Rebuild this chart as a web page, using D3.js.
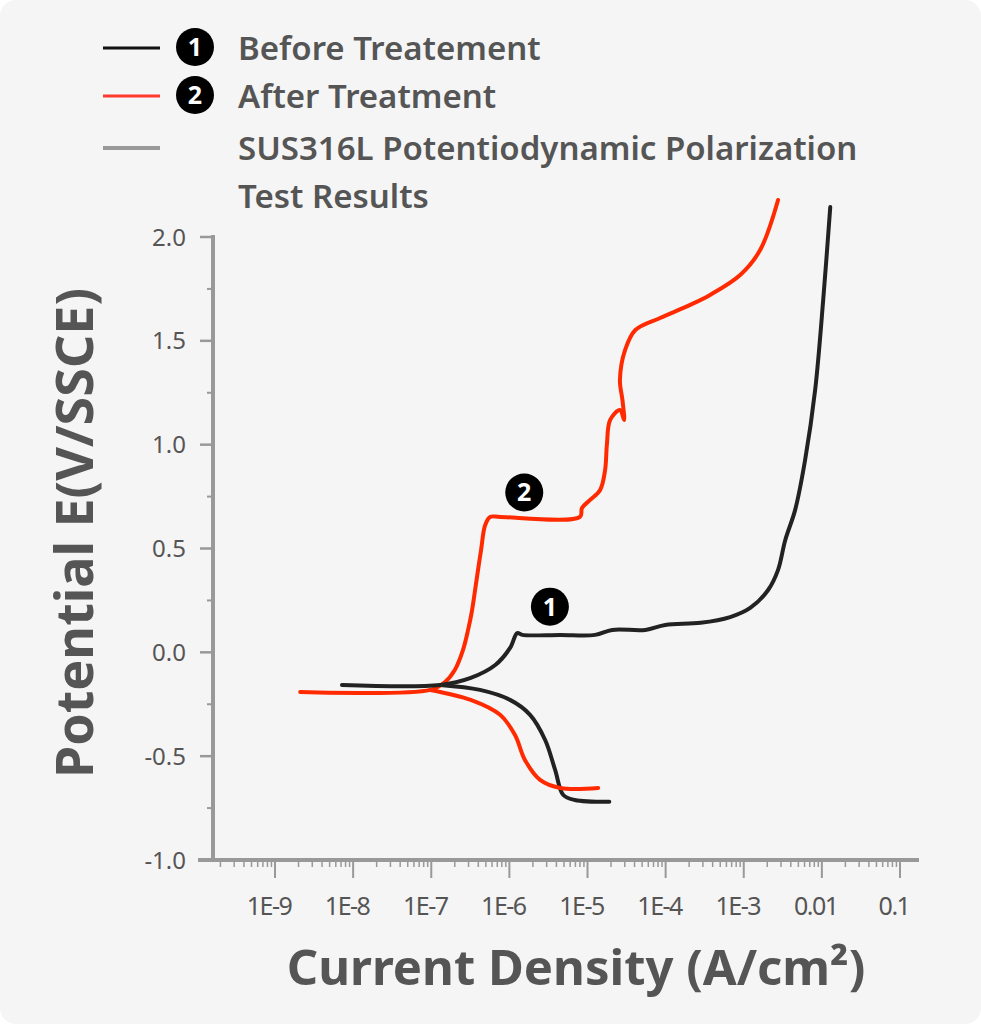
<!DOCTYPE html>
<html>
<head>
<meta charset="utf-8">
<script src="https://cdn.jsdelivr.net/npm/d3@7"></script>
<style>
  body { margin: 0; background: #fff; }
  svg { display: block; font-family: "Noto Sans", sans-serif; }
</style>
</head>
<body>
<svg id="chart" width="981" height="1024"></svg>
<script>
// [current density A/cm2, potential V]
const beforeAnodic = [
  [7.2e-9, -0.157], [1.3e-7, -0.157], [3.2e-7, -0.123], [6.6e-7, -0.061], [1.02e-6, 0.021],
  [1.26e-6, 0.093], [1.46e-6, 0.084], [4.5e-6, 0.084], [1.25e-5, 0.084], [2.07e-5, 0.108],
  [5.5e-5, 0.108], [9.9e-5, 0.132], [2.8e-4, 0.142], [6.7e-4, 0.170], [1.21e-3, 0.214],
  [2.05e-3, 0.300], [2.75e-3, 0.397], [3.4e-3, 0.541], [4.55e-3, 0.686], [6.1e-3, 0.926],
  [8.2e-3, 1.263], [1.04e-2, 1.697], [1.28e-2, 2.144]
];
const beforeCathodic = [
  [1.3e-7, -0.157], [4.2e-7, -0.181], [1.02e-6, -0.229], [1.84e-6, -0.301], [2.87e-6, -0.422],
  [3.85e-6, -0.566], [4.9e-6, -0.687], [6.9e-6, -0.711], [1.9e-5, -0.720]
];
const afterAnodic = [
  [2.1e-9, -0.191], [9.7e-8, -0.181], [1.5e-7, -0.143], [2.0e-7, -0.085], [2.55e-7, 0.012],
  [2.96e-7, 0.108], [3.3e-7, 0.195], [3.64e-7, 0.300], [3.97e-7, 0.397], [4.34e-7, 0.493],
  [4.9e-7, 0.613], [5.66e-7, 0.652], [7.6e-7, 0.652], [8.0e-6, 0.652], [8.5e-6, 0.695],
  [1.08e-5, 0.734], [1.45e-5, 0.782], [1.68e-5, 0.878], [1.77e-5, 0.999], [1.95e-5, 1.119],
  [2.6e-5, 1.167], [2.94e-5, 1.119], [2.8e-5, 1.215], [2.6e-5, 1.311], [3.03e-5, 1.456],
  [4.1e-5, 1.552], [8.5e-5, 1.610], [2.06e-4, 1.673], [3.7e-4, 1.721], [9.0e-4, 1.817],
  [1.62e-3, 1.937], [2.75e-3, 2.178]
];
const afterCathodic = [
  [9.7e-8, -0.181], [3.2e-7, -0.229], [7.6e-7, -0.301], [1.18e-6, -0.398], [1.58e-6, -0.518],
  [2.47e-6, -0.614], [4.5e-6, -0.653], [1.37e-5, -0.653]
];
const xTickValues = [1e-9, 1e-8, 1e-7, 1e-6, 1e-5, 1e-4, 1e-3, 0.01, 0.1];
const xTickLabels = ['1E-9', '1E-8', '1E-7', '1E-6', '1E-5', '1E-4', '1E-3', '0.01', '0.1'];
const yTickValues = [-1.0, -0.5, 0.0, 0.5, 1.0, 1.5, 2.0];
const legendLabels = ['Before Treatement', 'After Treatment', 'SUS316L Potentiodynamic Polarization', 'Test Results'];
// marker labels placed on the curves [current, potential]
const markers = [
  { n: '1', at: [3.3e-6, 0.22] },
  { n: '2', at: [1.55e-6, 0.77] }
];

const svg = d3.select('#chart');
svg.append('rect').attr('width', 981).attr('height', 1024).attr('rx', 16).attr('fill', '#f5f5f5');

const xScale = d3.scaleLog()
  .domain([Math.pow(10, -9 - 75 / 78.1), Math.pow(10, -1 + 18 / 78.1)])
  .range([200, 918]);
const yScale = d3.scaleLinear().domain([-1, 2]).range([860, 237]);

const axisColor = '#999';
const textColor = '#555';

// y axis
const yAxis = svg.append('g').attr('transform', 'translate(213,0)');
yAxis.append('line').attr('y1', 235).attr('y2', 862).attr('stroke', axisColor).attr('stroke-width', 4);
yAxis.selectAll('.minor').data(d3.range(-0.75, 2, 0.5)).join('line')
  .attr('x1', -6).attr('x2', 0).attr('y1', d => yScale(d)).attr('y2', d => yScale(d))
  .attr('stroke', axisColor).attr('stroke-width', 2);
yAxis.selectAll('.major').data(yTickValues).join('line')
  .attr('x1', -13).attr('x2', 0).attr('y1', d => yScale(d)).attr('y2', d => yScale(d))
  .attr('stroke', axisColor).attr('stroke-width', 2.5);
yAxis.selectAll('text').data(yTickValues).join('text')
  .attr('x', -27).attr('y', d => yScale(d)).attr('dy', '0.36em')
  .attr('text-anchor', 'end').attr('font-size', 24).attr('fill', textColor)
  .text(d => d.toFixed(1));

// x axis
const xAxis = svg.append('g').attr('transform', 'translate(0,860)');
xAxis.append('line').attr('x1', 198).attr('x2', 919).attr('stroke', axisColor).attr('stroke-width', 4);
const minors = [];
for (let e = -10; e <= -1; e++) for (let m = 2; m <= 9; m++) minors.push(m * Math.pow(10, e));
xAxis.selectAll('.minor').data(minors.filter(v => xScale(v) > 205 && xScale(v) < 915)).join('line')
  .attr('x1', d => xScale(d)).attr('x2', d => xScale(d)).attr('y1', 0).attr('y2', 7)
  .attr('stroke', axisColor).attr('stroke-width', 1.5);
xAxis.selectAll('.major').data(xTickValues).join('line')
  .attr('x1', d => xScale(d)).attr('x2', d => xScale(d)).attr('y1', 0).attr('y2', 18)
  .attr('stroke', axisColor).attr('stroke-width', 2);
xAxis.selectAll('text').data(xTickValues).join('text')
  .attr('x', d => xScale(d) - 6).attr('y', 55).attr('text-anchor', 'middle')
  .attr('font-size', 25).attr('fill', textColor).attr('letter-spacing', -1.5)
  .text((d, i) => xTickLabels[i]);

// titles
svg.append('text').attr('x', 576).attr('y', 985).attr('text-anchor', 'middle')
  .attr('font-size', 49).attr('font-weight', 700).attr('fill', textColor)
  .text('Current Density (A/cm²)');
svg.append('text').attr('transform', 'translate(93,533) rotate(-90)').attr('text-anchor', 'middle')
  .attr('font-size', 52).attr('font-weight', 700).attr('fill', textColor)
  .text('Potential E(V/SSCE)');

// curves
const line = d3.line().x(d => xScale(d[0])).y(d => yScale(d[1])).curve(d3.curveCatmullRom.alpha(0.5));
const curves = [
  { data: beforeCathodic, color: '#222' },
  { data: afterAnodic, color: '#ff2a00' },
  { data: afterCathodic, color: '#ff2a00' },
  { data: beforeAnodic, color: '#222' }
];
svg.selectAll('.curve').data(curves).join('path')
  .attr('d', d => line(d.data)).attr('fill', 'none').attr('stroke', d => d.color)
  .attr('stroke-width', 4).attr('stroke-linejoin', 'round').attr('stroke-linecap', 'round');

function badge(g, cx, cy, n) {
  g.append('circle').attr('cx', cx).attr('cy', cy).attr('r', 19).attr('fill', '#000');
  g.append('text').attr('x', cx).attr('y', cy).attr('dy', '0.36em').attr('text-anchor', 'middle')
    .attr('font-size', 25).attr('font-weight', 700).attr('fill', '#fff').text(n);
}
markers.forEach(m => badge(svg, xScale(m.at[0]), yScale(m.at[1]), m.n));

// legend
const legend = svg.append('g');
const legendRows = [
  { y: 48, color: '#111', w: 3, badge: '1', label: legendLabels[0] },
  { y: 96, color: '#ff3b2f', w: 3, badge: '2', label: legendLabels[1] },
  { y: 148, color: '#999', w: 4, badge: null, label: legendLabels[2] }
];
legendRows.forEach(r => {
  legend.append('line').attr('x1', 103).attr('x2', 160).attr('y1', r.y).attr('y2', r.y)
    .attr('stroke', r.color).attr('stroke-width', r.w);
  if (r.badge) badge(legend, 195, r.y - 1, r.badge);
  legend.append('text').attr('x', 238).attr('y', r.y).attr('dy', '0.35em')
    .attr('font-size', 33).attr('font-weight', 600).attr('fill', textColor).text(r.label);
});
legend.append('text').attr('x', 238).attr('y', 196).attr('dy', '0.35em')
  .attr('font-size', 33).attr('font-weight', 600).attr('fill', textColor).text(legendLabels[3]);
</script>
</body>
</html>
